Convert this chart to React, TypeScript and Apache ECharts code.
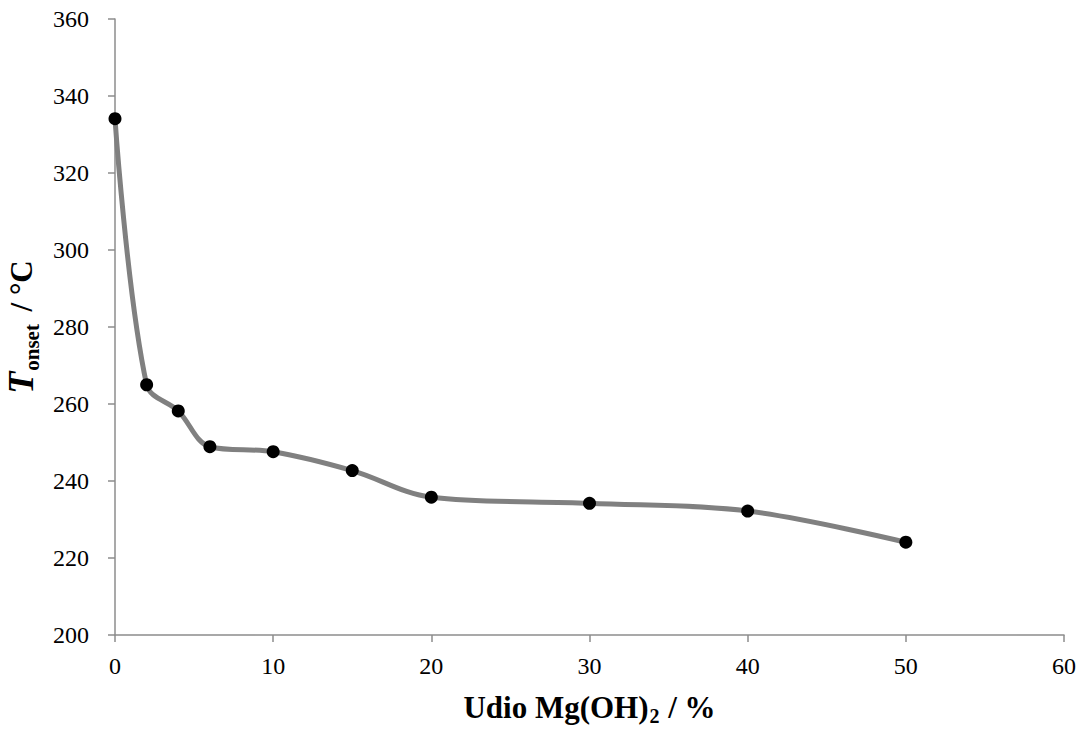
import React, { useEffect, useRef } from "react";
import * as echarts from "echarts";

const xValues = [0, 2, 4, 6, 10, 15, 20, 30, 40, 50];
const tOnset = [334.1, 265.0, 258.2, 248.9, 247.6, 242.7, 235.8, 234.2, 232.2, 224.1];
const xTicks = { min: 0, max: 60, interval: 10 };
const yTicks = { min: 200, max: 360, interval: 20 };

export default function App() {
  const ref = useRef<HTMLDivElement>(null);
  useEffect(() => {
    if (!ref.current) return;
    const chart = echarts.init(ref.current, null, { renderer: "svg" });
    const font = "Liberation Serif";
    chart.setOption({
      animation: false,
      backgroundColor: "#ffffff",
      textStyle: { fontFamily: font },
      grid: { left: 115, right: 24, top: 19, bottom: 94, containLabel: false, outerBoundsMode: "none" },
      xAxis: {
        type: "value",
        min: xTicks.min,
        max: xTicks.max,
        interval: xTicks.interval,
        name: "{b|Udio Mg(OH)}{sub|2}{b| / %}",
        nameLocation: "middle",
        nameGap: 53,
        nameTextStyle: {
          rich: {
            b: { fontFamily: font, fontWeight: "bold", fontSize: 31, lineHeight: 38, verticalAlign: "middle", color: "#000" },
            sub: { fontFamily: font, fontWeight: "bold", fontSize: 20, lineHeight: 20, color: "#000", verticalAlign: "bottom", padding: [22, 1, 0, 1] },
          },
        },
        axisLine: { lineStyle: { color: "#8c8c8c", width: 1.5 } },
        axisTick: { show: true, length: 7, inside: false, lineStyle: { color: "#8c8c8c", width: 1.5 } },
        axisLabel: { fontFamily: font, fontSize: 24, color: "#000", margin: 19 },
        splitLine: { show: false },
      },
      yAxis: {
        type: "value",
        min: yTicks.min,
        max: yTicks.max,
        interval: yTicks.interval,
        name: "{t|T}{s|onset}{n| / °C}",
        nameLocation: "middle",
        nameRotate: 90,
        nameGap: 51,
        nameTextStyle: {
          rich: {
            t: { fontFamily: font, fontWeight: "bold", fontStyle: "italic", fontSize: 36, lineHeight: 42, verticalAlign: "middle", color: "#000" },
            s: { fontFamily: font, fontWeight: "bold", fontSize: 21, lineHeight: 21, color: "#000", verticalAlign: "bottom", padding: [19, 5, 0, 1] },
            n: { fontFamily: font, fontWeight: "bold", fontSize: 31, lineHeight: 42, verticalAlign: "middle", color: "#000" },
          },
        },
        axisLine: { show: true, lineStyle: { color: "#8c8c8c", width: 1.5 } },
        axisTick: { show: true, length: 7, inside: false, lineStyle: { color: "#8c8c8c", width: 1.5 } },
        axisLabel: { fontFamily: font, fontSize: 24, color: "#000", margin: 26 },
        splitLine: { show: false },
      },
      series: [
        {
          type: "line",
          data: xValues.map((x, i) => [x, tOnset[i]]),
          smooth: 0.35,
          symbol: "circle",
          symbolSize: 13,
          itemStyle: { color: "#000000" },
          lineStyle: { color: "#808080", width: 5 },
        },
      ],
    });
    return () => chart.dispose();
  }, []);
  return (
    <div
      ref={ref}
      style={{ position: "fixed", left: 0, top: 0, width: 1088, height: 729, background: "#fff" }}
    />
  );
}
